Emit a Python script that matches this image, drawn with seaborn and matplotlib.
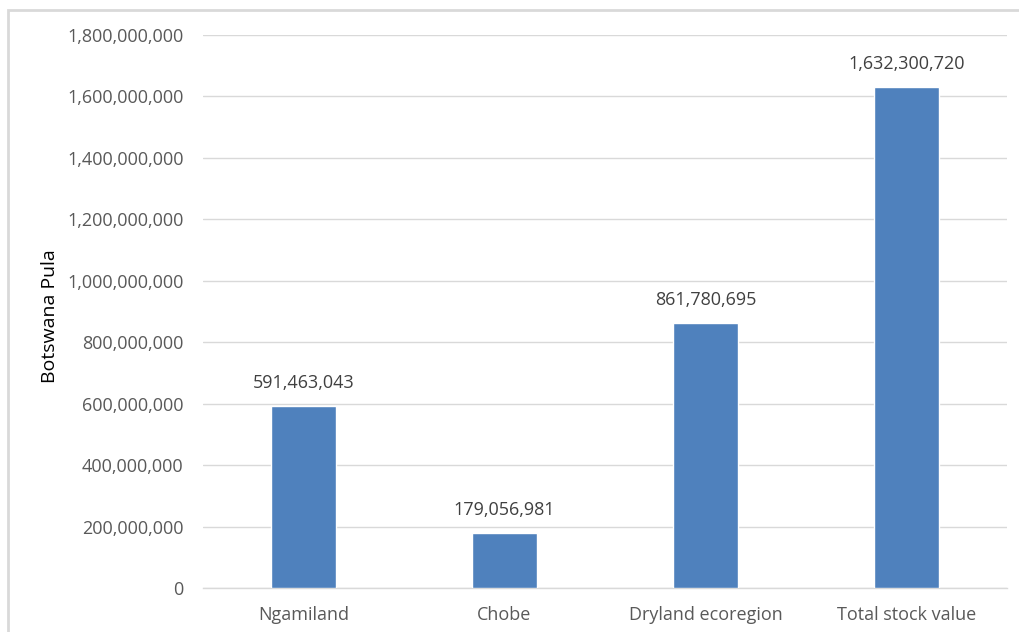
import matplotlib
matplotlib.use("Agg")
import matplotlib.pyplot as plt
import matplotlib.ticker as mticker
from matplotlib.patches import Rectangle
import seaborn as sns
import pandas as pd

categories = ["Ngamiland", "Chobe", "Dryland ecoregion", "Total stock value"]
values = [591463043, 179056981, 861780695, 1632300720]
y_ticks = [0, 200000000, 400000000, 600000000, 800000000, 1000000000,
           1200000000, 1400000000, 1600000000, 1800000000]
y_label = "Botswana Pula"

sns.set_style("white")
plt.rcParams["font.family"] = ["Open Sans", "DejaVu Sans"]

df = pd.DataFrame({"region": categories, "value": values})

fig = plt.figure(figsize=(10.19, 6.32), dpi=100)
ax = fig.add_axes([203 / 1019, 1 - 588 / 632, (1007 - 203) / 1019, (588 - 35) / 632])

sns.barplot(data=df, x="region", y="value", color="#4F81BD", width=0.32,
            saturation=1, ax=ax, zorder=3)

ax.set_ylim(0, 1800000000)
ax.set_xlim(-0.5, 3.5)
ax.set_yticks(y_ticks)
ax.yaxis.set_major_formatter(mticker.FuncFormatter(lambda v, p: f"{int(v):,}"))
ax.grid(axis="y", color="#d9d9d9", linewidth=1, zorder=0)
ax.set_axisbelow(True)
for s in ["top", "right", "left"]:
    ax.spines[s].set_visible(False)
ax.spines["bottom"].set_color("#d9d9d9")
ax.spines["bottom"].set_linewidth(1)
ax.tick_params(axis="both", length=0, colors="#595959", labelsize=13)
ax.tick_params(axis="y", pad=14)
ax.tick_params(axis="x", pad=13)
ax.set_xlabel("")
ax.set_ylabel(y_label, fontsize=14, color="black")
ax.yaxis.set_label_coords(50 / 1019, 0.5, transform=fig.transFigure)
ax.yaxis.label.set_verticalalignment("center")

for i, v in enumerate(values):
    ax.annotate(f"{v:,}", (i, v), xytext=(0, 10), textcoords="offset points",
                ha="center", va="bottom", fontsize=13, color="#404040")

# outer frame of the chart area
fig.patches.append(Rectangle((8 / 1019, -0.1), 1.2, 1 - 10 / 632 + 0.1,
                             transform=fig.transFigure, fill=False,
                             edgecolor="#d9d9d9", linewidth=2))

fig.savefig("out.png", dpi=100)
